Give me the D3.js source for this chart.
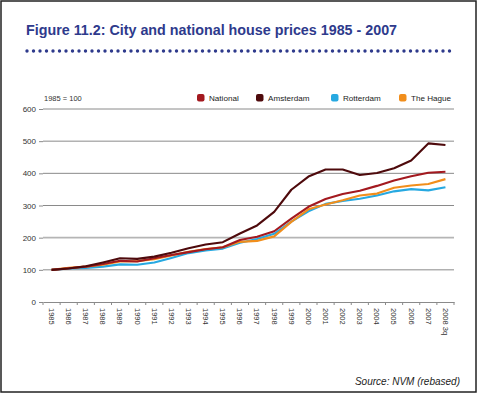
<!DOCTYPE html>
<html><head><meta charset="utf-8">
<script src="https://cdn.jsdelivr.net/npm/d3@7"></script>
<style>
html,body{margin:0;padding:0;background:#fff;}
svg{display:block;font-family:"Liberation Sans",Arial,Helvetica,sans-serif;}
</style></head>
<body>
<svg id="c" width="478" height="394"></svg>
<script>
const categories = ["1985","1986","1987","1988","1989","1990","1991","1992","1993","1994","1995","1996","1997","1998","1999","2000","2001","2002","2003","2004","2005","2006","2007","2008 3q"];
const national   = [100,105,110,118,128,126,136,146,155,164,170,193,203,220,259,296,320,336,346,361,378,391,402,405];
const amsterdam  = [100,104,111,123,136,134,141,153,167,179,186,213,238,280,349,390,412,412,395,401,416,440,493,488];
const rotterdam  = [100,104,106,110,117,116,123,137,152,160,166,184,196,212,250,282,305,314,321,331,344,351,347,357];
const theHague   = [100,106,110,116,126,127,133,145,156,165,170,187,190,204,249,288,303,316,331,337,355,362,367,382];
const yTicks = [0,100,200,300,400,500,600];
const seriesNames = ["National","Amsterdam","Rotterdam","The Hague"];
const seriesColors = ["#a3191f","#4e0a0c","#27a9e1","#f18e1c"];
const seriesData = [national, amsterdam, rotterdam, theHague];

const svg = d3.select("#c");
svg.append("rect").attr("x",1).attr("y",1).attr("width",475).attr("height",391)
  .attr("fill","none").attr("stroke","#222").attr("stroke-width",1.5);

svg.append("text").attr("x",26).attr("y",35).attr("fill","#2e3a8c")
  .attr("font-size",14.3).attr("font-weight","bold")
  .text("Figure 11.2: City and national house prices 1985 - 2007");
svg.append("line").attr("x1",27).attr("x2",453).attr("y1",51).attr("y2",51)
  .attr("stroke","#2e3a8c").attr("stroke-width",3.4).attr("stroke-linecap","round")
  .attr("stroke-dasharray","0 6.5");

const x = d3.scaleBand().domain(categories).range([43,454]);
const y = d3.scaleLinear().domain([0,600]).range([302,109]);

svg.append("g").selectAll("line").data(yTicks.filter(d=>d>0)).join("line")
  .attr("x1",43).attr("x2",454).attr("y1",d=>y(d)).attr("y2",d=>y(d))
  .attr("stroke",d=>d===200?"#b5b5b5":"#8a8a8a").attr("stroke-width",d=>d===200?1.6:1);

const ya = svg.append("g").attr("transform","translate(43,0)")
  .call(d3.axisLeft(y).tickValues(yTicks).tickSize(4).tickPadding(3));
ya.select(".domain").remove();
ya.selectAll("line").attr("stroke","#8a8a8a");
ya.selectAll("text").attr("font-size",8).attr("fill","#333").attr("font-family","Liberation Sans, Arial, sans-serif");

const xa = svg.append("g").attr("transform","translate(0,302)")
  .call(d3.axisBottom(x).tickSize(0).tickPadding(0));
xa.select(".domain").attr("stroke","#8a8a8a");
xa.selectAll("text").attr("font-size",7.5).attr("fill","#333")
  .attr("font-family","Liberation Sans, Arial, sans-serif")
  .attr("text-anchor","start").attr("dy","0.35em")
  .attr("transform","translate(0,6) rotate(90)");
const bounds = categories.map(c=>x(c)).concat([x(categories[categories.length-1])+x.bandwidth()]);
svg.append("g").selectAll("line").data(bounds).join("line")
  .attr("x1",d=>d).attr("x2",d=>d).attr("y1",302).attr("y2",305)
  .attr("stroke","#8a8a8a");

const line = d3.line().x((d,i)=>x(categories[i])+x.bandwidth()/2).y(d=>y(d));
[2,3,0,1].forEach(k=>{
  svg.append("path").datum(seriesData[k]).attr("d",line)
    .attr("fill","none").attr("stroke",seriesColors[k]).attr("stroke-width",2.1)
    .attr("stroke-linejoin","round");
});

svg.append("text").attr("x",44).attr("y",101).attr("font-size",7.5).attr("fill","#333").text("1985 = 100");
const legX = [197,256,331,399];
seriesNames.forEach((n,i)=>{
  svg.append("rect").attr("x",legX[i]).attr("y",94).attr("width",7.5).attr("height",7.5)
    .attr("rx",2).attr("fill",seriesColors[i]);
  svg.append("text").attr("x",legX[i]+12).attr("y",101).attr("font-size",8.1).attr("fill","#222").text(n);
});

svg.append("text").attr("x",460).attr("y",385).attr("text-anchor","end")
  .attr("font-size",10).attr("font-style","italic").attr("fill","#222").text("Source: NVM (rebased)");
</script>
</body></html>
